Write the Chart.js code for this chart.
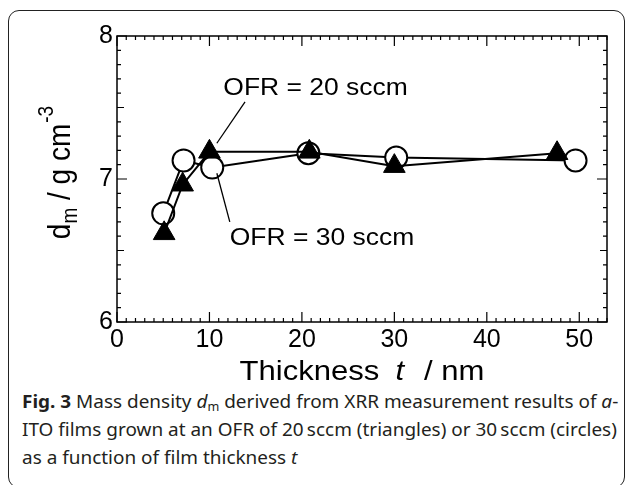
<!DOCTYPE html>
<html>
<head>
<meta charset="utf-8">
<script src="https://cdn.jsdelivr.net/npm/chart.js@4.4.0/dist/chart.umd.min.js"></script>
<style>
  html, body { margin: 0; padding: 0; background: #fff; }
  #wrap { position: relative; width: 630px; height: 485px; overflow: hidden; }
  #frame { position: absolute; left: 8px; top: 10px; width: 617px; height: 478px;
           border: 1.5px solid #222; border-radius: 11px; box-sizing: border-box; }
  #cv { position: absolute; left: 0; top: 0; }
  #cap { position: absolute; left: 22px; top: 387px; font-family: "Noto Sans", sans-serif;
         font-size: 18px; line-height: 28px; color: #231f20; white-space: nowrap;
         transform-origin: left top; }
  #cap sub { font-size: 12px; vertical-align: -3px; line-height: 0; }
</style>
</head>
<body>
<div id="wrap">
  <div id="frame"></div>
  <canvas id="cv" width="630" height="385"></canvas>
  <div id="cap">
    <div id="l1"><b>Fig. 3</b> Mass density <i>d</i><sub>m</sub> derived from XRR measurement results of <i>a</i>-</div>
    <div id="l2">ITO films grown at an OFR of 20&#8201;sccm (triangles) or 30&#8201;sccm (circles)</div>
    <div id="l3">as a function of film thickness <i>t</i></div>
  </div>
</div>
<script>
// OFR = 20 sccm (triangles)
const thick20 = [5.1, 7.1, 10.0, 20.8, 30.0, 47.6];
const dens20 = [6.62, 6.96, 7.19, 7.19, 7.09, 7.18];
// OFR = 30 sccm (circles)
const thick30 = [5.0, 7.2, 10.3, 20.7, 30.2, 49.6];
const dens30 = [6.76, 7.13, 7.08, 7.18, 7.15, 7.13];

const xTicks = [0, 10, 20, 30, 40, 50];
const yTicks = [6, 7, 8];
const labels = ['OFR = 20 sccm', 'OFR = 30 sccm'];

const FONT = '"Liberation Sans", Arial, sans-serif';

// label anchors & leader lines, in data units
const notes = [
  { text: labels[0], x: 11.5, y: 7.587, from: [13.85, 7.54], to: [10.8, 7.25] },
  { text: labels[1], x: 12.2, y: 6.54, from: [12.2, 6.70], to: [10.8, 7.04] }
];

function stretchText(ctx, str, x, y, sx) {
  ctx.save();
  ctx.translate(x, y);
  ctx.scale(sx, 1);
  ctx.fillText(str, 0, 0);
  ctx.restore();
}

const decor = {
  id: 'decor',
  afterDraw(chart) {
    const ctx = chart.ctx;
    const a = chart.chartArea;
    const xs = chart.scales.x, ys = chart.scales.y;
    ctx.save();
    ctx.strokeStyle = '#000';
    ctx.fillStyle = '#000';
    ctx.lineWidth = 1.5;
    ctx.strokeRect(a.left, a.top, a.right - a.left, a.bottom - a.top);

    // inward ticks on all four sides
    ctx.lineWidth = 1.2;
    ctx.beginPath();
    for (let v = 0; v <= 53; v++) {
      const px = xs.getPixelForValue(v);
      const len = v % 10 === 0 ? 10 : 4;
      ctx.moveTo(px, a.bottom); ctx.lineTo(px, a.bottom - len);
      ctx.moveTo(px, a.top); ctx.lineTo(px, a.top + len);
    }
    for (let i = 60; i <= 80; i++) {
      const py = ys.getPixelForValue(i / 10);
      const len = i % 10 === 0 ? 10 : (i % 5 === 0 ? 7 : 4);
      ctx.moveTo(a.left, py); ctx.lineTo(a.left + len, py);
      ctx.moveTo(a.right, py); ctx.lineTo(a.right - len, py);
    }
    ctx.stroke();

    // annotations
    ctx.lineWidth = 1.3;
    ctx.font = '23px ' + FONT;
    ctx.textBaseline = 'alphabetic';
    ctx.textAlign = 'left';
    notes.forEach(n => {
      ctx.beginPath();
      ctx.moveTo(xs.getPixelForValue(n.from[0]), ys.getPixelForValue(n.from[1]));
      ctx.lineTo(xs.getPixelForValue(n.to[0]), ys.getPixelForValue(n.to[1]));
      ctx.stroke();
      stretchText(ctx, n.text, xs.getPixelForValue(n.x), ys.getPixelForValue(n.y), 1.15);
    });

    // x title: Thickness  t  / nm
    const sx = 1.15;
    ctx.font = '27px ' + FONT;
    const w1 = ctx.measureText('Thickness').width * sx;
    const w3 = ctx.measureText('/ nm').width * sx;
    ctx.font = 'italic 27px ' + FONT;
    const w2 = ctx.measureText('t').width * sx;
    const gapA = 16, gapB = 20;
    const tot = w1 + gapA + w2 + gapB + w3;
    let x0 = (a.left + a.right) / 2 - tot / 2;
    const yb = 380;
    ctx.font = '27px ' + FONT;
    stretchText(ctx, 'Thickness', x0, yb, sx);
    ctx.font = 'italic 27px ' + FONT;
    stretchText(ctx, 't', x0 + w1 + gapA, yb, sx);
    ctx.font = '27px ' + FONT;
    stretchText(ctx, '/ nm', x0 + w1 + gapA + w2 + gapB, yb, sx);

    // y title: d_m / g cm^-3 (rotated)
    ctx.save();
    ctx.translate(70, (a.top + a.bottom) / 2 - 6);
    ctx.rotate(-Math.PI / 2);
    ctx.scale(1, 1.15);
    const big = '28px ' + FONT, small = '19px ' + FONT;
    ctx.font = big;
    const dW = ctx.measureText('d').width;
    ctx.font = small;
    const mW = ctx.measureText('m').width;
    const supW = ctx.measureText('-3').width;
    ctx.font = big;
    const midW = ctx.measureText(' / g cm').width;
    const total = dW + mW + midW + supW;
    let cx = -total / 2;
    ctx.font = big; ctx.fillText('d', cx, 0); cx += dW;
    ctx.font = small; ctx.fillText('m', cx, 6); cx += mW;
    ctx.font = big; ctx.fillText(' / g cm', cx, 0); cx += midW;
    ctx.font = small; ctx.fillText('-3', cx + 1, -15);
    ctx.restore();

    ctx.restore();
  }
};

new Chart(document.getElementById('cv'), {
  type: 'line',
  data: {
    datasets: [
      {
        label: labels[0],
        data: thick20.map((t, i) => ({ x: t, y: dens20[i] })),
        borderColor: '#000',
        borderWidth: 2,
        backgroundColor: '#000',
        pointStyle: 'triangle',
        pointRadius: 12.5,
        pointBackgroundColor: '#000',
        pointBorderColor: '#000',
        pointBorderWidth: 1,
        tension: 0
      },
      {
        label: labels[1],
        data: thick30.map((t, i) => ({ x: t, y: dens30[i] })),
        borderColor: '#000',
        borderWidth: 2,
        pointStyle: 'circle',
        pointRadius: 11,
        pointBackgroundColor: '#fff',
        pointBorderColor: '#000',
        pointBorderWidth: 2,
        tension: 0
      }
    ]
  },
  options: {
    responsive: false,
    animation: false,
    events: [],
    layout: { padding: { left: 0, right: 23, top: 36, bottom: 0 } },
    plugins: { legend: { display: false }, tooltip: { enabled: false } },
    scales: {
      x: {
        type: 'linear',
        min: 0,
        max: 53,
        grid: { display: false, drawTicks: false },
        border: { display: false },
        afterBuildTicks: s => { s.ticks = xTicks.map(v => ({ value: v })); },
        afterFit: s => { s.height = 63; },
        ticks: { color: '#000', font: { family: FONT, size: 25 }, padding: 3, maxRotation: 0 }
      },
      y: {
        type: 'linear',
        min: 6,
        max: 8,
        grid: { display: false, drawTicks: false },
        border: { display: false },
        afterBuildTicks: s => { s.ticks = yTicks.map(v => ({ value: v })); },
        afterFit: s => { s.width = 117; },
        ticks: { color: '#000', font: { family: FONT, size: 25 }, padding: 4 }
      }
    }
  },
  plugins: [decor]
});

// fit caption width to the reference line length
const cap = document.getElementById('cap');
const w2 = document.getElementById('l2').scrollWidth;
cap.style.transform = 'scaleX(' + (596 / w2) + ')';
</script>
</body>
</html>
